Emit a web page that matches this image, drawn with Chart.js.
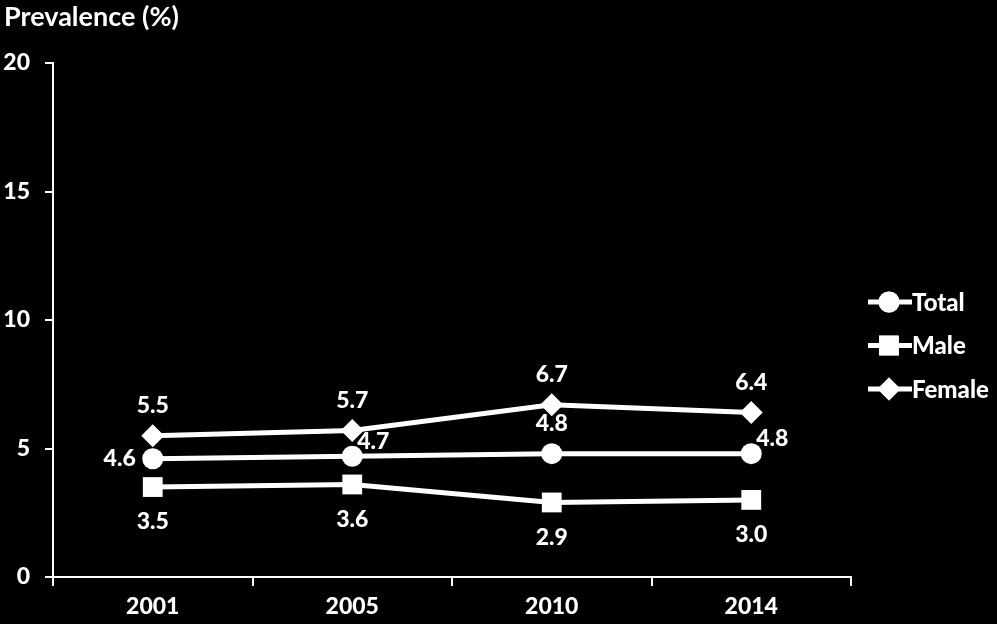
<!DOCTYPE html>
<html>
<head>
<meta charset="utf-8">
<script src="https://cdn.jsdelivr.net/npm/chart.js@4/dist/chart.umd.min.js"></script>
<style>
  html, body { margin: 0; padding: 0; background: #000; }
  .wrap { width: 997px; height: 624px; position: relative; }
</style>
</head>
<body>
<div class="wrap"><canvas id="chart"></canvas></div>
<script>
const years = ['2001', '2005', '2010', '2014']
const total = [4.6, 4.7, 4.8, 4.8]
const male = [3.5, 3.6, 2.9, 3.0]
const female = [5.5, 5.7, 6.7, 6.4]
const yTicks = [0, 5, 10, 15, 20]
const totalLabelPos = ['left', 'right', 'above', 'right']
const maleLabelPos = ['below', 'below', 'below', 'below']
const femaleLabelPos = ['above', 'above', 'above', 'above']

const font = 'Lato'

const labelPlugin = {
  id: 'labels',
  afterDatasetsDraw(chart) {
    const ctx = chart.ctx
    ctx.save()
    ctx.fillStyle = '#fff'
    ctx.font = '900 23px ' + font
    chart.data.datasets.forEach((ds, di) => {
      const meta = chart.getDatasetMeta(di)
      meta.data.forEach((pt, i) => {
        const pos = ds.labelPos[i]
        const txt = ds.data[i].toFixed(1)
        let x = pt.x, y = pt.y
        ctx.textBaseline = 'middle'
        if (pos == 'above') { ctx.textAlign = 'center'; y -= 30 }
        if (pos == 'below') { ctx.textAlign = 'center'; y += 35 }
        if (pos == 'left') { ctx.textAlign = 'right'; x -= 17 }
        if (pos == 'right') { ctx.textAlign = 'left'; x += 5; y -= 15 }
        ctx.fillText(txt, x, y)
      })
    })
    ctx.restore()
  }
}

const legendPlugin = {
  id: 'sideLegend',
  afterDraw(chart) {
    const ctx = chart.ctx
    ctx.save()
    ctx.fillStyle = '#fff'
    ctx.strokeStyle = '#fff'
    ctx.font = '900 24px ' + font
    ctx.textBaseline = 'middle'
    ctx.textAlign = 'left'
    chart.data.datasets.forEach((ds, di) => {
      const y = 302 + di * 43.5
      ctx.lineWidth = 5
      ctx.beginPath()
      ctx.moveTo(868, y)
      ctx.lineTo(912, y)
      ctx.stroke()
      Chart.helpers.drawPoint(ctx, {
        pointStyle: ds.pointStyle,
        radius: ds.pointRadius,
        borderWidth: 0
      }, 889, y)
      ctx.fill()
      ctx.fillText(ds.label, 912, y + 1)
    })
    ctx.font = 'bold 27px ' + font
    ctx.fillText('Prevalence (%)', 4, 17)
    ctx.restore()
  }
}

new Chart(document.getElementById('chart'), {
  type: 'line',
  data: {
    labels: years,
    datasets: [
      { label: 'Total', data: total, labelPos: totalLabelPos, pointStyle: 'circle', pointRadius: 10.5 },
      { label: 'Male', data: male, labelPos: maleLabelPos, pointStyle: 'rect', pointRadius: 14 },
      { label: 'Female', data: female, labelPos: femaleLabelPos, pointStyle: 'rectRot', pointRadius: 11.5 }
    ].map(d => Object.assign(d, {
      borderColor: '#fff',
      backgroundColor: '#fff',
      pointBackgroundColor: '#fff',
      pointBorderWidth: 0,
      pointHoverRadius: d.pointRadius,
      borderWidth: 5,
      tension: 0
    }))
  },
  options: {
    responsive: true,
    maintainAspectRatio: false,
    animation: false,
    events: [],
    layout: { padding: { top: 63, right: 146, left: 0, bottom: 0 } },
    plugins: {
      legend: { display: false },
      title: { display: false },
      tooltip: { enabled: false }
    },
    scales: {
      x: {
        offset: true,
        grid: { offset: true, drawOnChartArea: false, drawTicks: true, tickLength: 9, color: '#fff', lineWidth: 2 },
        border: { color: '#fff', width: 2 },
        ticks: { color: '#fff', padding: 7, font: { family: font, size: 23, weight: '900' } },
        afterFit(scale) { scale.height = 47 }
      },
      y: {
        min: 0,
        max: 20,
        afterBuildTicks(scale) { scale.ticks = yTicks.map(v => ({ value: v })) },
        grid: { drawOnChartArea: false, drawTicks: true, tickLength: 8, color: '#fff', lineWidth: 2 },
        border: { color: '#fff', width: 2 },
        ticks: { color: '#fff', padding: 15, font: { family: font, size: 23, weight: '900' } },
        afterFit(scale) { scale.width = 53 }
      }
    }
  },
  plugins: [labelPlugin, legendPlugin]
})
</script>
</body>
</html>
